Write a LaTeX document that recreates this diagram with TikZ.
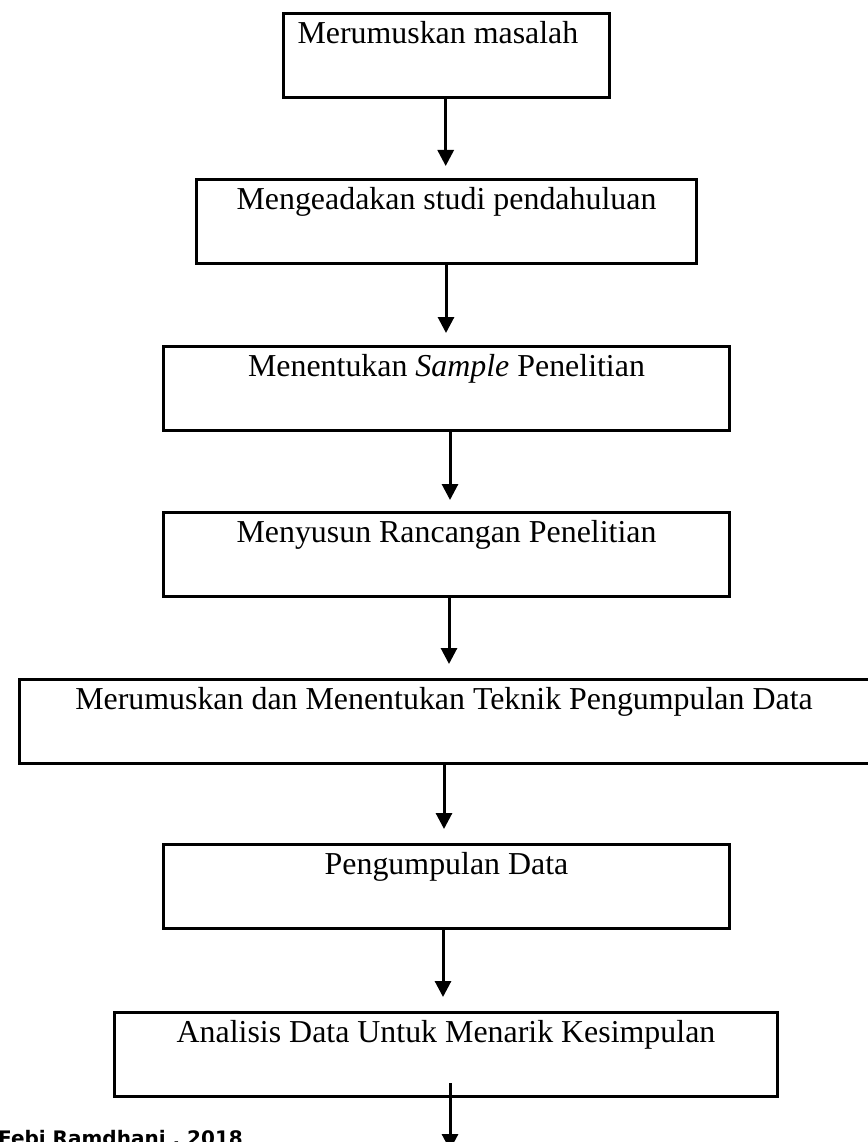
\documentclass[tikz,border=0pt]{standalone}
\usepackage{fontspec}
\setmainfont{Liberation Serif}
\newfontfamily\footfont{DejaVu Sans}
\usetikzlibrary{arrows.meta}
\tikzset{
  box/.style={draw, line width=3pt, rectangle, inner sep=0pt, text height=30pt, text depth=54pt,
    font=\fontsize{31.9}{38}\selectfont},
  arr/.style={line width=3pt, -{Triangle[width=16pt,length=16pt]}},
}
\begin{document}
\begin{tikzpicture}[x=1pt,y=-1pt]
\useasboundingbox (0,0) rectangle (867,1142);
\node[box, minimum width=326pt, anchor=north west] (b1) at (282,12) {\makebox[298pt][l]{Merumuskan masalah}};
\node[box, minimum width=500pt, anchor=north west] (b2) at (195,178) {Mengeadakan studi pendahuluan};
\node[box, minimum width=566pt, anchor=north west] (b3) at (162,345) {Menentukan \textit{Sample} Penelitian};
\node[box, minimum width=566pt, anchor=north west] (b4) at (162,511) {Menyusun Rancangan Penelitian};
\node[box, minimum width=850pt, anchor=north] (b5) at (444,678) {Merumuskan dan Menentukan Teknik Pengumpulan Data};
\node[box, minimum width=566pt, anchor=north west] (b6) at (162,843) {Pengumpulan Data};
\node[box, minimum width=663pt, anchor=north west] (b7) at (113,1011) {Analisis Data Untuk Menarik Kesimpulan};
\coordinate (x1) at (445.7,0);
\coordinate (x2) at (446,0);
\coordinate (x3) at (450,0);
\coordinate (x4) at (449,0);
\coordinate (x5) at (444,0);
\coordinate (x6) at (443,0);
\coordinate (x7) at (450,0);
\coordinate (end7) at (450,1150);
\draw[arr] (b1.south -| x1) -- ([yshift=12pt]b2.north -| x1);
\draw[arr] (b2.south -| x2) -- ([yshift=12pt]b3.north -| x2);
\draw[arr] (b3.south -| x3) -- ([yshift=11pt]b4.north -| x3);
\draw[arr] (b4.south -| x4) -- ([yshift=14pt]b5.north -| x4);
\draw[arr] (b5.south -| x5) -- ([yshift=14pt]b6.north -| x5);
\draw[arr] (b6.south -| x6) -- ([yshift=14pt]b7.north -| x6);
\draw[arr] ([yshift=15pt]b7.south -| x7) -- (end7);
\node[anchor=base west, inner sep=0pt, font=\footfont\bfseries\fontsize{20}{24}\selectfont] (foot) at (-2,1145) {Febi Ramdhani , 2018};
\end{tikzpicture}
\end{document}
